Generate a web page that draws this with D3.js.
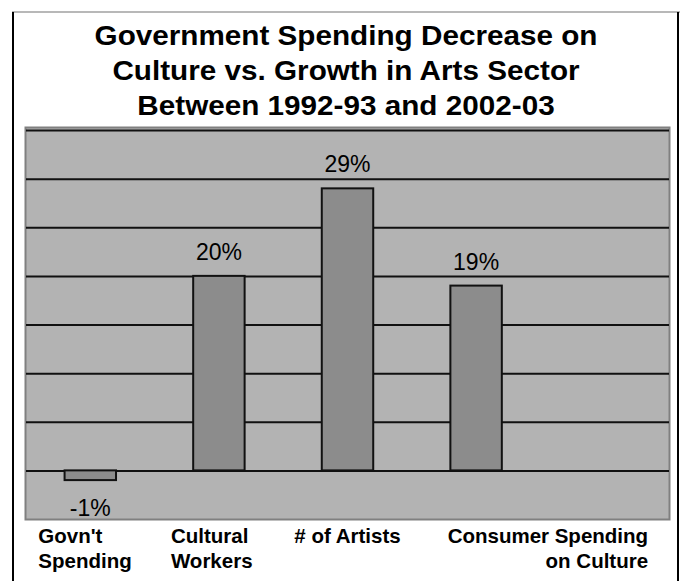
<!DOCTYPE html>
<html>
<head>
<meta charset="utf-8">
<script src="https://cdn.jsdelivr.net/npm/d3@7/dist/d3.min.js"></script>
<style>
  body { margin: 0; background: #fff; }
  svg text { font-family: "Liberation Sans", Arial, sans-serif; }
</style>
</head>
<body>
<div id="chart"></div>
<script>
// chart data
const categories = ["Govn't Spending", "Cultural Workers", "# of Artists", "Consumer Spending on Culture"];
const labelLines = [["Govn't", "Spending"], ["Cultural", "Workers"], ["# of Artists"], ["Consumer Spending", "on Culture"]];
const values = [-1, 20, 29, 19];
const valueLabels = ["-1%", "20%", "29%", "19%"];
const gridTicks = [0, 5, 10, 15, 20, 25, 30, 35];
const titleLines = ["Government Spending Decrease on", "Culture vs. Growth in Arts Sector", "Between 1992-93 and 2002-03"];

const width = 682;
const height = 581;

const svg = d3.select('#chart')
	.append('svg')
	.attr('width', width)
	.attr('height', height);

// outer frame
svg.append('line')
	.attr('x1', 12).attr('y1', 12).attr('x2', 680).attr('y2', 12)
	.attr('stroke', '#a0a0a0').attr('stroke-width', 1.5);
svg.append('line')
	.attr('x1', 13).attr('y1', 12).attr('x2', 13).attr('y2', height)
	.attr('stroke', '#000').attr('stroke-width', 2);
svg.append('line')
	.attr('x1', 678).attr('y1', 12).attr('x2', 678).attr('y2', height)
	.attr('stroke', '#000').attr('stroke-width', 2);

// title (the original is a little wider than plain Arial)
svg.append('g')
	.attr('transform', 'translate(346,0) scale(1.06,1)')
	.selectAll('text')
	.data(titleLines)
	.join('text')
	.attr('x', 0)
	.attr('y', (d, i) => 45 + i * 35)
	.attr('text-anchor', 'middle')
	.style('font-size', '28px')
	.style('font-weight', 'bold')
	.text(d => d);

const plot = { left: 26, right: 669, top: 128, bottom: 519 };

// 5th slot is an empty category in the original chart
const x = d3.scaleBand()
	.domain([...categories, ''])
	.range([plot.left, plot.right])
	.padding(0);

const y = d3.scaleLinear()
	.domain([-5, 35])
	.range([519, 130]);

// plot area
svg.append('rect')
	.attr('x', plot.left - 0.5)
	.attr('y', plot.top - 0.5)
	.attr('width', plot.right - plot.left + 1)
	.attr('height', plot.bottom - plot.top + 1)
	.attr('fill', '#b3b3b3')
	.attr('stroke', '#808080')
	.attr('stroke-width', 2);

// gridlines
const grid = svg.append('g')
	.attr('transform', `translate(${plot.left},0)`)
	.call(d3.axisLeft(y)
		.tickValues(gridTicks)
		.tickSize(-(plot.right - plot.left))
		.tickFormat(''));
grid.select('.domain').remove();
grid.selectAll('.tick line')
	.attr('stroke', '#111')
	.attr('stroke-width', 2);

// bars
const barW = x.bandwidth() * 0.4;
svg.append('g')
	.selectAll('rect')
	.data(values)
	.join('rect')
	.attr('x', (d, i) => x(categories[i]) + (x.bandwidth() - barW) / 2)
	.attr('y', d => y(Math.max(0, d)))
	.attr('width', barW)
	.attr('height', d => Math.abs(y(d) - y(0)))
	.attr('fill', '#8c8c8c')
	.attr('stroke', '#111')
	.attr('stroke-width', 2);

// value labels
svg.append('g')
	.selectAll('text')
	.data(values)
	.join('text')
	.attr('x', (d, i) => x(categories[i]) + x.bandwidth() / 2)
	.attr('y', d => d >= 0 ? y(d) - 16 : y(d) + 36)
	.attr('text-anchor', 'middle')
	.style('font-size', '23px')
	.text((d, i) => valueLabels[i]);

// category labels (alignment follows the original picture)
const labelPos = [
	{ dx: -52, anchor: 'start' },
	{ dx: -48, anchor: 'start' },
	{ dx: 0, anchor: 'middle' },
	{ dx: 172, anchor: 'end' }
];
const cat = svg.append('g')
	.selectAll('text')
	.data(labelLines)
	.join('text')
	.attr('text-anchor', (d, i) => labelPos[i].anchor)
	.style('font-size', '20.5px')
	.style('font-weight', 'bold');
cat.each(function(lines, i) {
	const cx = x(categories[i]) + x.bandwidth() / 2 + labelPos[i].dx;
	d3.select(this).selectAll('tspan')
		.data(lines)
		.join('tspan')
		.attr('x', cx)
		.attr('y', (d, j) => 543 + j * 25)
		.text(d => d);
});
</script>
</body>
</html>
